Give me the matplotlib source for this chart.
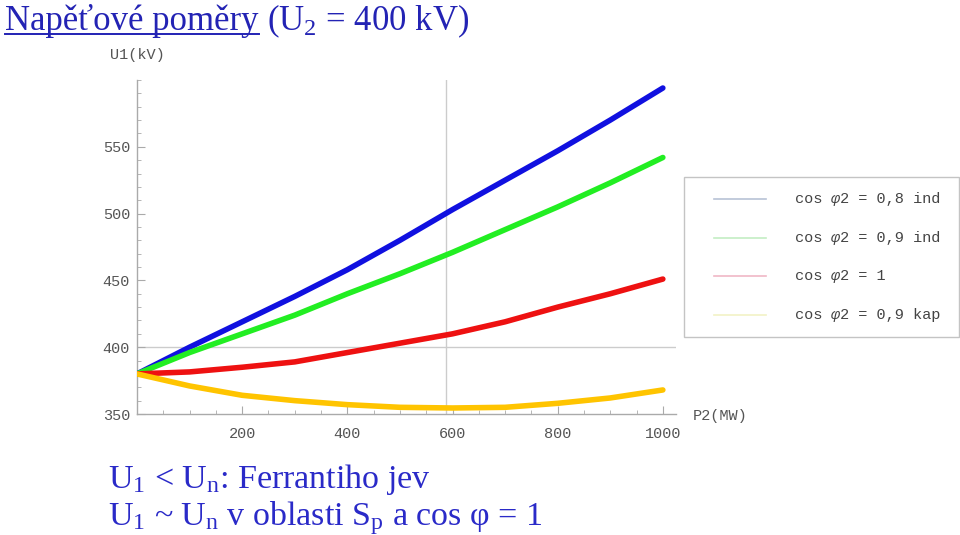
#!/usr/bin/env python
# -*- coding: utf-8 -*-

import matplotlib
matplotlib.use("Agg")
import matplotlib.pyplot as plt
from matplotlib.lines import Line2D
from matplotlib.patches import Rectangle
from matplotlib.ticker import MultipleLocator

# data
p2 = [0, 100, 200, 300, 400, 500, 600, 700, 800, 900, 1000]
u1_08_ind = [380, 400, 419, 438, 458, 480, 503, 525, 547, 570, 594]
u1_09_ind = [380, 396, 410, 424, 440, 455, 471, 488, 505, 523, 542]
u1_1 = [380, 381.5, 385, 389, 396, 403, 410, 419, 430, 440, 451]
u1_09_kap = [380, 371, 364, 360, 357, 355, 354.5, 355, 358, 362, 368]

serie_u = [u1_08_ind, u1_09_ind, u1_1, u1_09_kap]
barvy = ["#1010e0", "#22ee22", "#ee1111", "#ffc400"]
barvy_legenda = ["#b8c2d6", "#c4eec4", "#f0b8c6", "#f2f2c6"]
popisky = ["0,8 ind", "0,9 ind", "1", "0,9 kap"]

p_natural = 587
u_n = 400

plt.rcParams["mathtext.fontset"] = "custom"
plt.rcParams["mathtext.rm"] = "Liberation Serif"
plt.rcParams["mathtext.it"] = "Liberation Serif:italic"

W, H = 960, 535
fig = plt.figure(figsize=(W / 100, H / 100), dpi=100)


def fx(x):
    return x / W


def fy(y):
    return 1 - y / H


ax = fig.add_axes([fx(137), fy(414), fx(676) - fx(137), fy(80) - fy(414)])

# mrizka
ax.axvline(p_natural, color="#cccccc", lw=1, zorder=1)
ax.axhline(u_n, color="#cccccc", lw=1, zorder=1)

for u, c in zip(serie_u, barvy):
    ax.plot(p2, u, color=c, lw=4, solid_capstyle="round", zorder=3)

ax.set_xlim(0, 1025)
ax.set_ylim(350, 600)
ax.set_xticks([200, 400, 600, 800, 1000])
ax.set_yticks([350, 400, 450, 500, 550])
ax.xaxis.set_minor_locator(MultipleLocator(50))
ax.yaxis.set_minor_locator(MultipleLocator(10))

for s in ["top", "right"]:
    ax.spines[s].set_visible(False)
for s in ["left", "bottom"]:
    ax.spines[s].set_color("#aaaaaa")
    ax.spines[s].set_linewidth(1)

ax.tick_params(which="both", direction="in", color="#aaaaaa",
               labelcolor="#555555", labelsize=11)
ax.tick_params(which="major", length=6)
ax.tick_params(which="minor", length=3)
ax.tick_params(axis="x", pad=9)
ax.tick_params(axis="y", pad=5)
for lab in ax.get_xticklabels() + ax.get_yticklabels():
    lab.set_family("Liberation Mono")

fig.text(fx(137), fy(55), "U1(kV)", family="Liberation Mono", fontsize=11,
         color="#555555", ha="center", va="center")
fig.text(fx(693), fy(416), "P2(MW)", family="Liberation Mono", fontsize=11,
         color="#555555", ha="left", va="center")

# legenda
fig.patches.append(Rectangle((fx(684), fy(337)), fx(959) - fx(684), fy(177) - fy(337),
                             transform=fig.transFigure, facecolor="white",
                             edgecolor="#c4c4c4", lw=1))
char_w = 9.06
for i, (c, lab) in enumerate(zip(barvy_legenda, popisky)):
    y = 199 + i * 38.7
    fig.lines.append(Line2D([fx(714), fx(766)], [fy(y), fy(y)], color=c, lw=1.2,
                            transform=fig.transFigure))
    fig.text(fx(795), fy(y), "cos ", family="Liberation Mono", fontsize=11,
             color="#444444", va="center")
    fig.text(fx(795 + 4 * char_w), fy(y), "φ", family="Liberation Mono",
             style="italic", fontsize=11, color="#444444", va="center")
    fig.text(fx(795 + 5 * char_w), fy(y), "2 = " + lab, family="Liberation Mono",
             fontsize=11, color="#444444", va="center")

# nadpis
modra = "#2323b4"
t1 = fig.text(fx(5), fy(30), "Napěťové poměry", family="Liberation Serif",
              fontsize=25, color=modra, ha="left", va="baseline")
fig.canvas.draw()
bb = t1.get_window_extent().transformed(fig.transFigure.inverted())
fig.lines.append(Line2D([bb.x0, bb.x1], [fy(34), fy(34)], color=modra, lw=1.4,
                        transform=fig.transFigure))
fig.text(bb.x1 + fx(8), fy(30), r"(U$_2$ = 400 kV)", family="Liberation Serif",
         fontsize=25, color=modra, ha="left", va="baseline")

modra2 = "#2a2ac8"
fig.text(fx(108), fy(488), r"U$_1$ < U$_\mathrm{n}$: Ferrantiho jev",
         family="Liberation Serif", fontsize=24.5, color=modra2, va="baseline")
fig.text(fx(108), fy(525), r"U$_1$ ~ U$_\mathrm{n}$ v oblasti S$_\mathrm{p}$ a cos φ = 1",
         family="Liberation Serif", fontsize=24.5, color=modra2, va="baseline")

plt.savefig("out.png", dpi=100)
